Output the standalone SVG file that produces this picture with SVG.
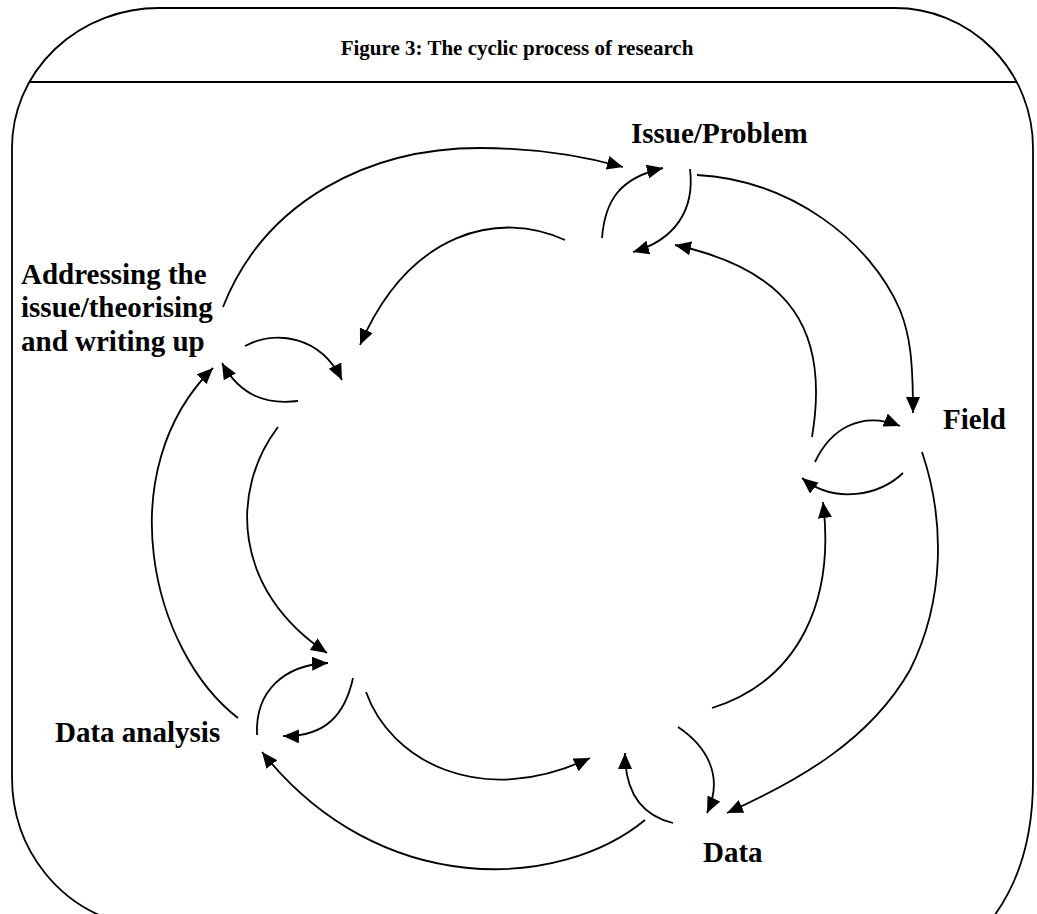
<svg xmlns="http://www.w3.org/2000/svg" width="1037" height="914" viewBox="0 0 1037 914">
<defs>
<marker id="ah" markerUnits="userSpaceOnUse" markerWidth="17" markerHeight="15" refX="16" refY="7" orient="auto"><path d="M0,0 L16,7 L0,14 Z" fill="#000"/></marker>
<style>
.c{fill:none;stroke:#000;stroke-width:1.8}
.a{marker-end:url(#ah)}
.lbl{font-family:"Liberation Serif","Times New Roman",serif;font-weight:bold;font-size:29px;fill:#000}
.ttl{font-family:"Liberation Serif","Times New Roman",serif;font-weight:bold;font-size:21px;fill:#000}
</style>
</defs>
<rect width="1037" height="914" fill="#fff"/>
<g id="frame">
<path class="c" d="M159,8 H895 A138,140 0 0 1 1033,148 V780 C1033,850 1012,895 987,925 L130,925 C60,910 12,850 12,777 V148 A147,140 0 0 1 159,8 Z"/>
<line x1="29" y1="82" x2="1017" y2="82" stroke="#000" stroke-width="2"/>
<text class="ttl" x="517" y="55" text-anchor="middle">Figure 3: The cyclic process of research</text>
</g>
<g id="node-issue"><text class="lbl" x="631" y="143">Issue/Problem</text></g>
<g id="node-addressing"><text class="lbl" x="21" y="284">Addressing the</text><text class="lbl" x="21" y="317">issue/theorising</text><text class="lbl" x="21" y="351">and writing up</text></g>
<g id="node-field"><text class="lbl" x="943" y="429">Field</text></g>
<g id="node-data"><text class="lbl" x="703" y="862">Data</text></g>
<g id="node-analysis"><text class="lbl" x="55" y="742">Data analysis</text></g>
<g id="connectors">
<path class="c a" d="M223,307 C265,200 370,148 480,148 C540,148 590,158 623,167"/>
<path class="c a" d="M697,175 C790,180 870,240 900,310 C910,335 913,360 913,413"/>
<path class="c a" d="M922,452 C945,520 945,600 910,670 C870,740 800,780 727,813"/>
<path class="c a" d="M645,820 C560,890 380,900 262,752"/>
<path class="c a" d="M238,718 C150,650 110,470 213,368"/>
<path class="c a" d="M565,240 C500,210 410,230 360,345"/>
<path class="c a" d="M812,437 C830,330 790,270 675,245"/>
<path class="c a" d="M712,708 C800,680 835,600 823,502"/>
<path class="c a" d="M366,692 C390,760 480,810 590,758"/>
<path class="c a" d="M278,427 C230,490 232,590 327,653"/>
<path class="c a" d="M602,238 C605,200 620,178 663,168"/>
<path class="c a" d="M690,169 C695,210 675,240 633,252"/>
<path class="c a" d="M245,346 C275,330 320,335 342,380"/>
<path class="c a" d="M298,401 C265,405 240,395 222,363"/>
<path class="c a" d="M815,462 C830,430 860,410 900,426"/>
<path class="c a" d="M903,473 C880,495 835,505 802,478"/>
<path class="c a" d="M673,823 C640,815 625,790 625,753"/>
<path class="c a" d="M678,727 C705,745 725,775 707,813"/>
<path class="c a" d="M257,735 C255,690 285,665 328,663"/>
<path class="c a" d="M353,678 C345,715 325,737 283,736"/>
</g>
</svg>
